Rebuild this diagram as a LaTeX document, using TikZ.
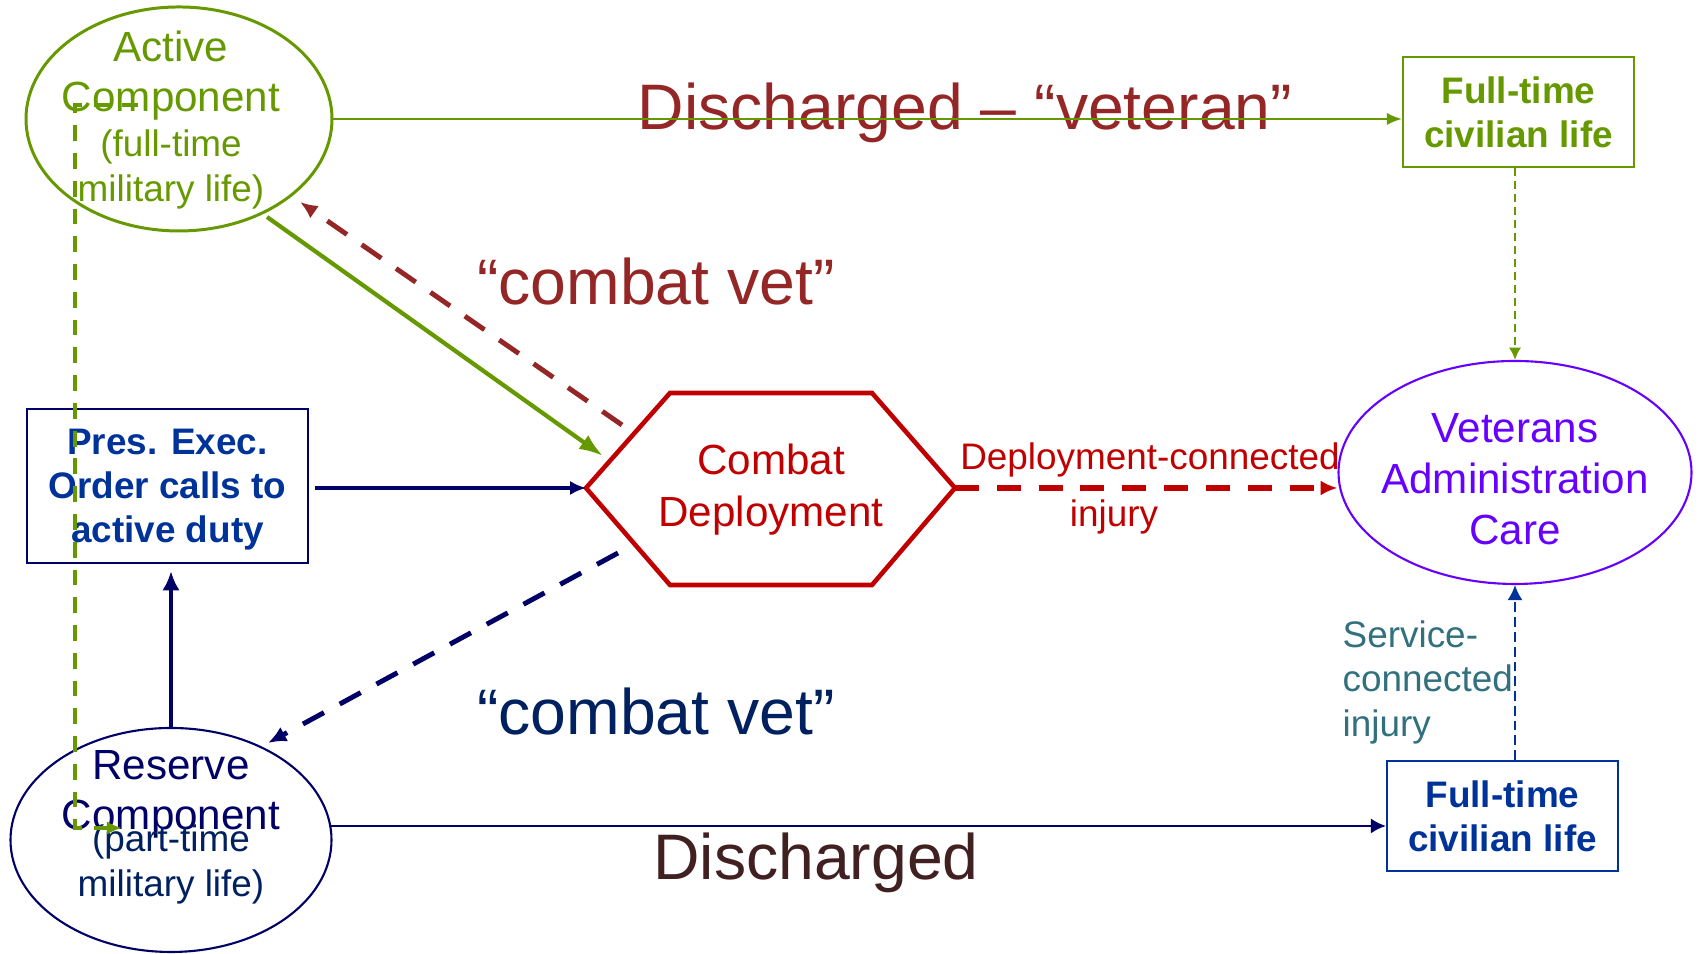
\documentclass[tikz,border=0pt]{standalone}
\usepackage{fontspec}
\setmainfont{Liberation Sans}
\usetikzlibrary{arrows.meta,shapes.geometric}

\definecolor{leaf}{RGB}{102,153,0}
\definecolor{brick}{RGB}{148,38,38}
\definecolor{hexred}{RGB}{192,0,0}
\definecolor{navy}{RGB}{0,0,102}
\definecolor{royal}{RGB}{0,51,153}
\definecolor{ink}{RGB}{0,32,96}
\definecolor{vapurple}{RGB}{102,0,255}
\definecolor{svcteal}{RGB}{49,112,125}
\definecolor{umber}{RGB}{64,32,32}

\tikzset{
  oval/.style={ellipse,draw,line width=0.6pt,inner sep=0pt},
  lifebox/.style={rectangle,draw,line width=0.6pt,align=center,
    minimum width=2.31cm,minimum height=1.1cm,
    font=\fontsize{10.5}{12.6}\selectfont\bfseries},
  bigtxt/.style={font=\fontsize{12}{14.4}\selectfont,align=center,anchor=base},
  midtxt/.style={font=\fontsize{10.5}{12.8}\selectfont,align=center,anchor=base},
  slogan/.style={font=\fontsize{18.3}{22}\selectfont,anchor=base},
  bigdash/.style={dash pattern=on 6.8pt off 5.1pt},
}

\begin{document}
\begin{tikzpicture}
\useasboundingbox (0,0) rectangle (17,9.54);

% the two components (text nodes sit on the baseline of their last line)
\node[oval,draw=leaf,line width=0.85pt,minimum width=3.06cm,minimum height=2.24cm] (active) at (1.79,8.35) {};
\node[bigtxt,text=leaf] (active-a) at (1.71,8.42) {Active\\Component};
\node[midtxt,text=leaf] (active-b) at (1.71,7.52) {(full-time\\military life)};
\node[oval,draw=navy,minimum width=3.21cm,minimum height=2.24cm] (reserve) at (1.71,1.14) {};
\node[bigtxt,text=navy] (reserve-a) at (1.71,1.24) {Reserve\\Component};
\node[midtxt,text=ink] (reserve-b) at (1.71,0.57) {(part-time\\military life)};

% executive order
\node[lifebox,draw=navy,line width=0.65pt,text=royal,minimum width=2.81cm,minimum height=1.54cm,text depth=0pt] (pres) at (1.675,4.68) {Pres. Exec.\\Order calls to\\active duty};

% civilian life
\node[lifebox,draw=leaf,text=leaf] (greenbox) at (15.185,8.42) {Full-time\\civilian life};
\node[lifebox,draw=royal,text=royal] (navybox) at (15.025,1.38) {Full-time\\civilian life};

% VA
\node[oval,draw=vapurple,minimum width=3.53cm,minimum height=2.23cm] (va) at (15.15,4.815) {};
\node[bigtxt,text=vapurple,font=\fontsize{12}{14.6}\selectfont] (va-txt) at (15.15,4.09) {Veterans\\Administration\\Care};

% combat deployment hexagon
\coordinate (hex-w) at (5.86,4.66);
\coordinate (hex-nw) at (6.70,5.61);
\coordinate (hex-ne) at (8.72,5.61);
\coordinate (hex-e) at (9.55,4.66);
\coordinate (hex-se) at (8.72,3.69);
\coordinate (hex-sw) at (6.70,3.69);
\draw[hexred,line width=1.3pt,line join=miter] (hex-w) -- (hex-nw) -- (hex-ne) -- (hex-e) -- (hex-se) -- (hex-sw) -- cycle;
\node[bigtxt,text=hexred,font=\fontsize{12}{14.8}\selectfont] (hex-txt) at (7.71,4.27) {Combat\\Deployment};

% labels
\node[slogan,text=brick] (vet-lbl) at (9.65,8.24) {Discharged -- “veteran”};
\node[slogan,text=brick] (cv-top) at (6.56,6.49) {“combat vet”};
\node[slogan,text=ink] (cv-bot) at (6.56,2.19) {“combat vet”};
\node[slogan,text=umber] (dis-lbl) at (8.16,0.74) {Discharged};
\node[midtxt,text=hexred] (dc-lbl) at (11.50,4.84) {Deployment-connected};
\node[midtxt,text=hexred] (inj-lbl) at (11.14,4.27) {injury};
\node[midtxt,text=svcteal,align=left,anchor=base west,inner xsep=0pt] (svc-lbl) at (13.42,2.17) {Service-\\connected\\injury};

% arrows
\coordinate (ac-out) at (2.67,7.37);
\coordinate (hex-in) at (6.03,4.98);
\coordinate (hex-back) at (6.22,5.29);
\coordinate (ac-in) at (3.00,7.52);
\coordinate (hex-down) at (6.18,4.01);
\coordinate (res-in) at (2.68,2.11);
\coordinate (loop-s) at (1.38,8.49);
\coordinate (loop-e) at (1.22,1.26);

\draw[leaf,line width=0.6pt,-{Latex[length=4.3pt,width=3.5pt]}] (active.east) -- (active.east -| greenbox.west);
\draw[leaf,line width=1.2pt,-{Latex[length=6.8pt,width=4.8pt]}] (ac-out) -- (hex-in);
\draw[brick,line width=1.4pt,bigdash,-{Latex[length=5pt,width=4.3pt]}] (hex-back) -- (ac-in);
\draw[navy,line width=1.4pt,bigdash,-{Latex[length=5.2pt,width=4.6pt]}] (hex-down) -- (res-in);
\draw[navy,line width=1.2pt,shorten <=1.7pt,-{Latex[length=4.5pt,width=4pt]}] (pres.east |- hex-w) -- (hex-w);
\draw[navy,line width=1.2pt,shorten >=2pt,-{Latex[length=5.5pt,width=5pt]}] (reserve.north) -- (reserve.north |- pres.south);
\draw[navy,line width=0.6pt,-{Latex[length=4.3pt,width=4.3pt]}] (reserve.5) -- (reserve.5 -| navybox.west);
\draw[hexred,line width=1.6pt,bigdash,-{Latex[length=4.8pt,width=4.3pt]}] (hex-e) -- (hex-e -| va.west);
\draw[leaf,line width=0.6pt,dash pattern=on 2.3pt off 1.4pt,-{Latex[length=3.5pt,width=3.5pt]}] (va.north |- greenbox.south) -- (va.north);
\draw[royal,line width=0.6pt,dash pattern=on 2.8pt off 1.4pt,-{Latex[length=4.3pt,width=4.3pt]}] (va.south |- navybox.north) -- (va.south);
\draw[leaf,line width=1pt,dash pattern=on 4.5pt off 3.4pt,-{Latex[length=4.3pt,width=3.8pt]}] (loop-s) -- ++(-0.63,0) |- (loop-e);
\end{tikzpicture}
\end{document}
